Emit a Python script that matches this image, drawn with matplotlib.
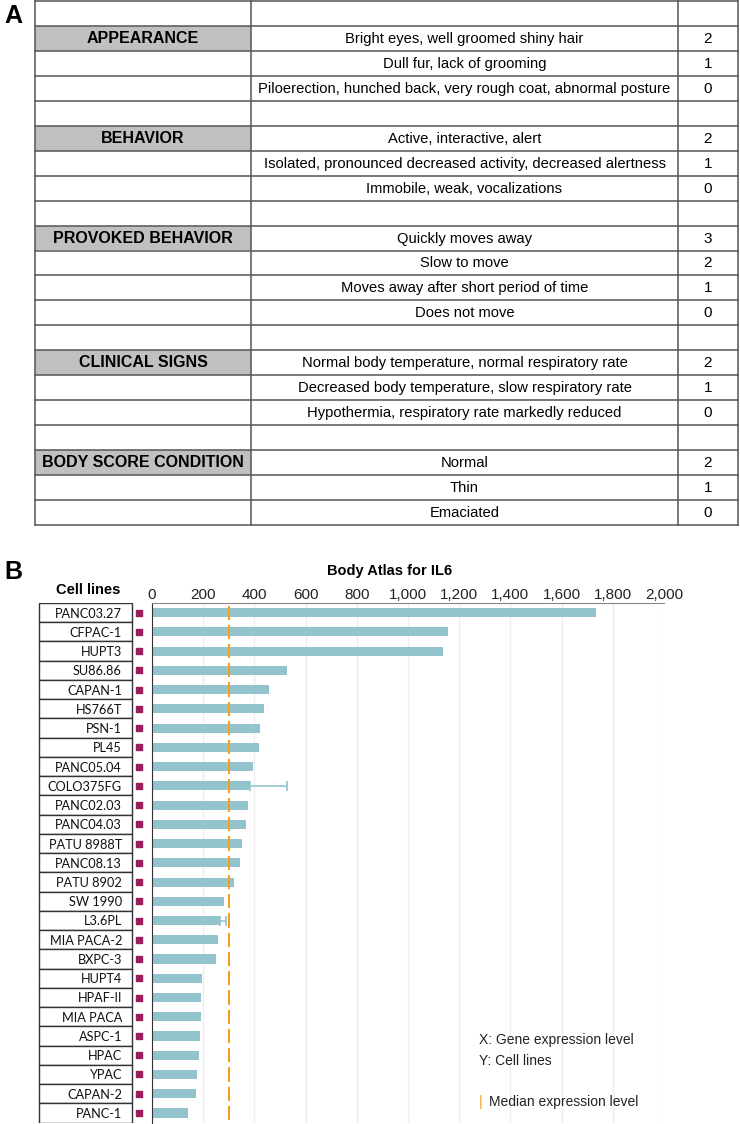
import matplotlib.pyplot as plt
from matplotlib.patches import Rectangle

# ---- panel A: scoring table ----
categories = ["", "APPEARANCE", "", "", "", "BEHAVIOR", "", "", "",
              "PROVOKED BEHAVIOR", "", "", "", "", "CLINICAL SIGNS", "", "", "",
              "BODY SCORE CONDITION", "", ""]
descriptions = [
    "", "Bright eyes, well groomed shiny hair", "Dull fur, lack of grooming",
    "Piloerection, hunched back, very rough coat, abnormal posture", "",
    "Active, interactive, alert",
    "Isolated, pronounced decreased activity, decreased alertness",
    "Immobile, weak, vocalizations", "",
    "Quickly moves away", "Slow to move", "Moves away after short period of time",
    "Does not move", "",
    "Normal body temperature, normal respiratory rate",
    "Decreased body temperature, slow respiratory rate",
    "Hypothermia, respiratory rate markedly reduced", "",
    "Normal", "Thin", "Emaciated",
]
scores = ["", "2", "1", "0", "", "2", "1", "0", "", "3", "2", "1", "0", "",
          "2", "1", "0", "", "2", "1", "0"]

# ---- panel B: IL6 expression in cell lines ----
cell_lines = ["PANC03.27", "CFPAC-1", "HUPT3", "SU86.86", "CAPAN-1", "HS766T",
              "PSN-1", "PL45", "PANC05.04", "COLO375FG", "PANC02.03", "PANC04.03",
              "PATU 8988T", "PANC08.13", "PATU 8902", "SW 1990", "L3.6PL",
              "MIA PACA-2", "BXPC-3", "HUPT4", "HPAF-II", "MIA PACA", "ASPC-1",
              "HPAC", "YPAC", "CAPAN-2", "PANC-1"]
expression = [1734, 1157, 1138, 528, 457, 438, 420, 419, 394, 381, 376, 367,
              352, 344, 321, 282, 266, 256, 251, 196, 193, 191, 189, 184, 175,
              171, 140]
errors = {"COLO375FG": 146, "L3.6PL": 24}
median_level = 299
x_ticks = [0, 200, 400, 600, 800, 1000, 1200, 1400, 1600, 1800, 2000]

W, H = 740, 1124
SANS = "Liberation Sans"
fig = plt.figure(figsize=(W / 100, H / 100), dpi=100)

# full-figure overlay in pixel units for the table
ax0 = fig.add_axes([0, 0, 1, 1])
ax0.set_xlim(0, W)
ax0.set_ylim(H, 0)
ax0.axis("off")

x0, x1, x2, x3 = 35, 251, 678, 738
row_h = 24.95
top = 1
line_c = "#555555"
for i, (cat, desc, sc) in enumerate(zip(categories, descriptions, scores)):
    y = top + i * row_h
    if cat:
        ax0.add_patch(Rectangle((x0, y), x1 - x0, row_h, facecolor="#c0c0c0",
                                edgecolor="none"))
        ax0.text((x0 + x1) / 2, y + row_h / 2, cat, ha="center", va="center",
                 fontsize=11.5, fontweight="bold", family=SANS)
    ax0.text((x1 + x2) / 2, y + row_h / 2 + 0.5, desc, ha="center", va="center",
             fontsize=10.6, family=SANS)
    ax0.text((x2 + x3) / 2, y + row_h / 2 + 0.5, sc, ha="center", va="center",
             fontsize=11, family=SANS)
n = len(categories)
for i in range(n + 1):
    y = top + i * row_h
    ax0.plot([x0, x3], [y, y], color=line_c, lw=1.1)
for x in (x0, x1, x2, x3):
    ax0.plot([x, x], [top, top + n * row_h], color=line_c, lw=1.1)

ax0.text(4, 16, "A", fontsize=18, fontweight="bold", va="center", family=SANS)
ax0.text(4, 572, "B", fontsize=18, fontweight="bold", va="center", family=SANS)

# ---- bar chart ----
ax_left, ax_right = 152, 664
ax_top, ax_bot = 603, 1122.6
ax = fig.add_axes([ax_left / W, 1 - ax_bot / H, (ax_right - ax_left) / W,
                   (ax_bot - ax_top) / H])
ypos = list(range(len(cell_lines)))
bar_c = "#93c4ce"
ax.barh(ypos, expression, height=0.47, color=bar_c, zorder=2)
for name, err in errors.items():
    i = cell_lines.index(name)
    ax.errorbar(expression[i], i, xerr=[[0], [err]], color=bar_c, lw=1.2,
                capsize=3.5, capthick=1.2, zorder=2)
ax.vlines([median_level] * len(ypos), [i - 0.37 for i in ypos],
          [i + 0.37 for i in ypos], color="#f2a01e", lw=1.5, zorder=3)
ax.set_xlim(0, 2000)
ax.set_ylim(len(cell_lines) - 0.5, -0.5)
ax.set_xticks(x_ticks)
ax.set_xticklabels([f"{t:,}" for t in x_ticks], fontsize=11, family=SANS,
                   color="#222222")
ax.xaxis.tick_top()
ax.tick_params(axis="x", length=0, pad=1)
ax.set_yticks([])
ax.grid(axis="x", color="#eeeeee", lw=1, zorder=0)
ax.spines["right"].set_visible(False)
ax.spines["bottom"].set_visible(False)
ax.spines["top"].set_color("#888888")
ax.spines["left"].set_color("#333333")

# cell-line label column
ax_lab = fig.add_axes([37 / W, 1 - ax_bot / H, (152 - 37) / W,
                       (ax_bot - ax_top) / H], sharey=ax)
ax_lab.set_xlim(0, 115)
ax_lab.axis("off")
for i, name in enumerate(cell_lines):
    ax_lab.add_patch(Rectangle((2, i - 0.5), 93, 1, facecolor="white",
                               edgecolor="#333333", lw=1.0))
    ax_lab.text(85, i + 0.05, name, ha="right", va="center", fontsize=9.2,
                family=["Lato", "DejaVu Sans"], color="#111111")
ax_lab.scatter([102] * len(ypos), ypos, marker="s", s=22, color="#9b1d5c",
               zorder=3)

fig.text(390 / W, 1 - 571 / H, "Body Atlas for IL6", ha="center", va="center",
         fontsize=10.5, fontweight="bold", family=SANS)
fig.text(88 / W, 1 - 590 / H, "Cell lines", ha="center", va="center",
         fontsize=10.5, fontweight="bold", family=SANS)

fig.text(479 / W, 1 - 1040 / H, "X: Gene expression level", va="center",
         fontsize=10, family=SANS, color="#222222")
fig.text(479 / W, 1 - 1061 / H, "Y: Cell lines", va="center",
         fontsize=10, family=SANS, color="#222222")
fig.text(479 / W, 1 - 1102 / H, "|", va="center", fontsize=10,
         color="#f2a01e", family=SANS)
fig.text(489 / W, 1 - 1102 / H, "Median expression level", va="center",
         fontsize=10, family=SANS, color="#222222")

fig.savefig("out.png", dpi=100, facecolor="white")
